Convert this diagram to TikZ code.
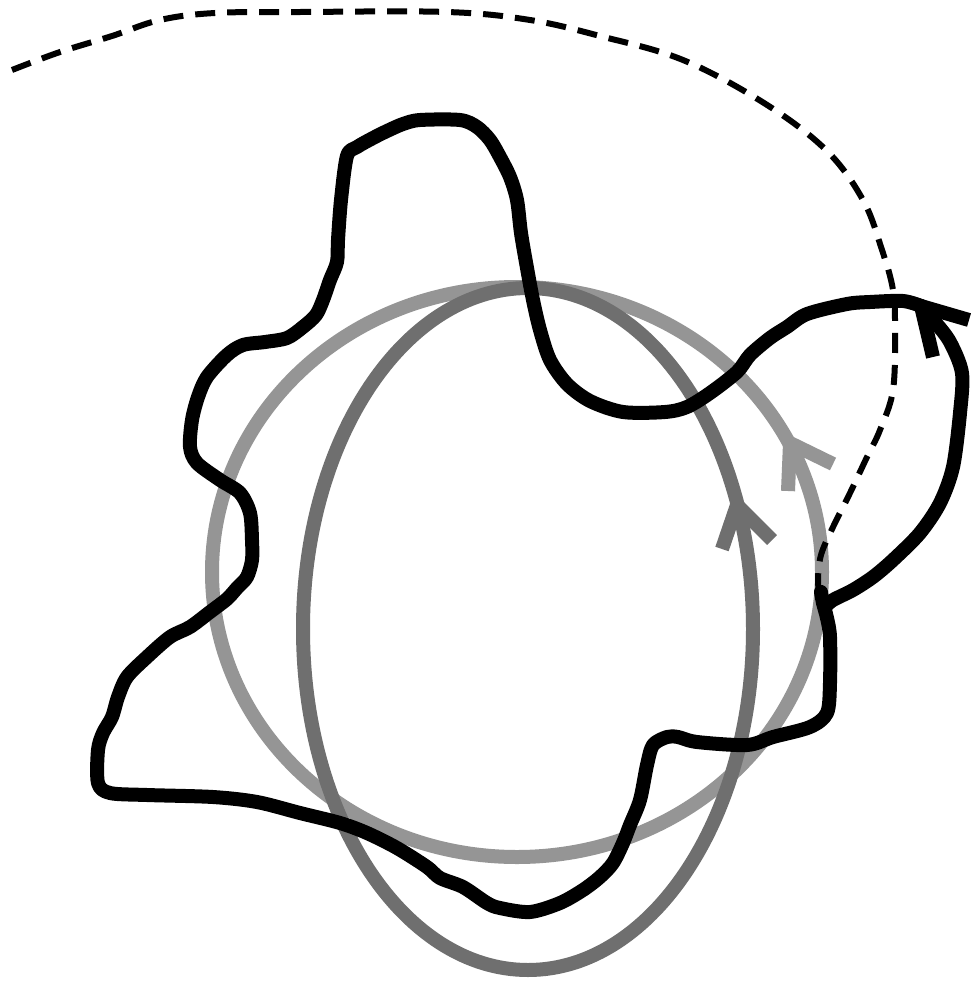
\documentclass[tikz,border=0pt]{standalone}
\usetikzlibrary{calc}
\definecolor{lightg}{HTML}{959595}
\definecolor{darkg}{HTML}{6F6F6F}
\tikzset{
  graycurve/.style={line width=14pt},
  blackcurve/.style={line width=14pt, black, line join=round, line cap=round},
  dashcurve/.style={line width=6pt, black, dash pattern=on 20pt off 12pt},
  armline/.style={line width=14pt, line cap=butt},
}
\begin{document}
\begin{tikzpicture}[x=1pt,y=-1pt]
\useasboundingbox (0,0) rectangle (973,983);
\fill[white] (0,0) rectangle (973,983);
% gray circle and ellipse
\draw[graycurve, lightg] (517,572) ellipse [x radius=305, y radius=285];
\draw[graycurve, darkg] (528,629) ellipse [x radius=225, y radius=341];
% gray arrowheads
\coordinate (lt) at (790,443);
\coordinate (la) at (833,464);
\coordinate (lb) at (788,491);
\draw[armline, lightg] (la) -- (lt) -- (lb);
\coordinate (dt) at (737,505);
\coordinate (da) at (772,540);
\coordinate (db) at (722,549);
\draw[armline, darkg] (da) -- (dt) -- (db);
% dashed curve
\draw[dashcurve] plot[smooth, tension=0.6] coordinates {
 (12,70) (60,52) (112,36) (160,20) (215,13) (300,12) (447,12)
 (530,20) (600,36) (683,60) (764,103) (826,150) (863,200) (882,250)
 (893,290) (895,330) (893,390) (880,430) (867,457) (850,493) (833,527)
 (821,555) (818,580) (820,597)};
% black wavy loop
\draw[blackcurve] plot[smooth, tension=0.5] coordinates {
 (921,306) (903,301) (870,302) (847,304) (807,314) (787,327) (770,338)
 (750,355) (737,372) (710,393) (687,407) (665,412) (623,412) (590,401)
 (567,384) (550,360) (540,330) (533,300) (527,268) (521,233) (517,200)
 (510,177) (500,157) (490,140) (477,127) (460,120) (420,120) (403,124)
 (387,131) (373,138) (357,147) (347,156) (341,200) (338,240) (337,262)
 (330,280) (323,300) (316,315) (303,327) (287,338) (265,342) (243,345)
 (227,355) (207,377) (198,397) (192,420) (190,447) (197,463) (220,480)
 (240,493) (250,513) (252,540) (252,560) (247,577) (237,588) (227,599)
 (210,612) (190,627) (170,637) (147,657) (127,677) (118,697) (112,717)
 (103,733) (98,750) (98,783) (110,793) (147,795) (213,797) (257,802)
 (300,813) (340,823) (367,833) (397,848) (427,867) (440,878) (463,887)
 (487,903) (500,908) (530,912) (560,903) (583,890) (600,877) (613,863)
 (623,843) (630,825) (640,800) (647,765) (653,745) (667,737) (678,737)
 (697,742) (747,745) (773,737) (810,727) (827,713) (830,683) (830,637)
 (827,618) (823,603) (821,592)};
\draw[blackcurve] plot[smooth, tension=0.5] coordinates {
 (826,606) (833,600) (853,590) (873,577) (893,560) (920,533) (940,503)
 (953,467) (960,413) (962,373) (950,342) (935,322) (921,306)};
% black arrowhead
\coordinate (bt) at (921,306);
\coordinate (ba) at (969,320);
\coordinate (bb) at (933,357);
\draw[armline, black] (ba) -- (bt) -- (bb);
\end{tikzpicture}
\end{document}
